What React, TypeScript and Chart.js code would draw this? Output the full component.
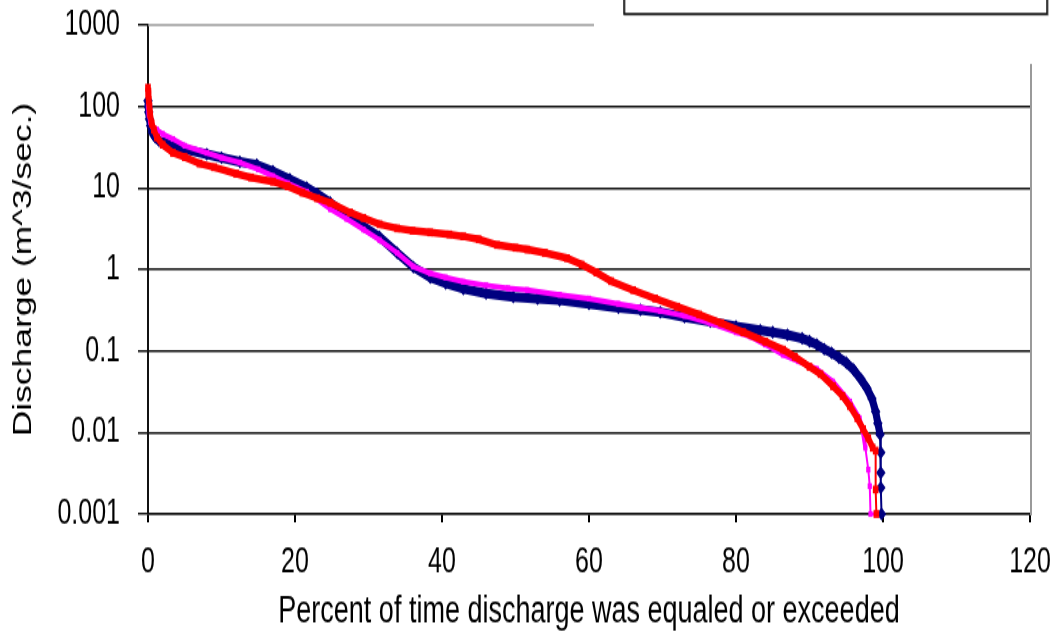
import React, { useEffect, useRef } from "react";
import { Chart, registerables } from "chart.js";

Chart.register(...registerables);

// ---- data ----
const xTickValues = [0, 20, 40, 60, 80, 100, 120];
const yTickValues = [0.001, 0.01, 0.1, 1, 10, 100, 1000];
const yTickLabels = ["0.001", "0.01", "0.1", "1", "10", "100", "1000"];

const xTitle = "Percent of time discharge was equaled or exceeded";
const yTitle = "Discharge (m^3/sec.)";

// navy series (diamonds)
const blueX = [0, 0.05, 0.1, 0.2, 0.35, 0.6, 1, 1.5, 2.2, 3.4, 5, 8, 10, 12.5, 14.8, 17, 19.3, 21.6, 23, 24.8, 27, 29.3, 31.5, 33.9, 36.1, 38.4, 40.5, 42.9, 46, 49.7, 53, 56, 60, 64, 67, 69.7, 73, 76.5, 80, 83.3, 85, 87, 89, 90, 91, 92, 93, 94, 95, 96, 97, 97.8, 98.5, 99, 99.3, 99.6, 99.7, 99.7, 99.7, 99.8];
const blueY = [118, 100, 85, 70, 58, 48, 42, 38, 36, 33, 30, 26, 23.5, 21, 19.3, 16, 12.8, 10.1, 8.5, 6.6, 4.7, 3.4, 2.5, 1.6, 1.07, 0.8, 0.68, 0.58, 0.51, 0.46, 0.44, 0.42, 0.38, 0.34, 0.32, 0.3, 0.26, 0.23, 0.2, 0.18, 0.17, 0.158, 0.143, 0.132, 0.12, 0.106, 0.095, 0.083, 0.072, 0.059, 0.045, 0.035, 0.026, 0.018, 0.013, 0.0095, 0.0057, 0.0032, 0.0021, 0.001];

// magenta series (small squares)
const pinkX = [0, 0.1, 0.3, 0.6, 1.2, 2, 3.4, 5, 8, 10, 12.5, 15, 17, 19, 21.6, 24.8, 27, 29.3, 31.5, 33.9, 36.1, 38.4, 40.5, 42.9, 46, 49, 51.6, 56, 60, 64, 67, 69.7, 73, 76.5, 80, 82, 84, 86.4, 88.5, 91, 93.2, 95.5, 96.8, 97.2, 97.6, 98.0, 98.2, 98.3, 99.0];
const pinkY = [100, 80, 65, 58, 52, 46, 40, 33, 27, 23.5, 20.5, 17, 14, 11.5, 9, 5.5, 4.2, 3.1, 2.3, 1.6, 1.09, 0.9, 0.8, 0.71, 0.64, 0.59, 0.56, 0.49, 0.44, 0.38, 0.34, 0.31, 0.27, 0.22, 0.17, 0.15, 0.12, 0.09, 0.075, 0.06, 0.042, 0.024, 0.015, 0.011, 0.0065, 0.0035, 0.0022, 0.001, 0.001];

// red series (squares)
const redX = [0, 0.05, 0.1, 0.2, 0.3, 0.5, 0.8, 1.2, 2, 3.4, 5, 7, 9, 12, 14, 17, 19, 21, 23, 24.8, 27.5, 29.3, 31.5, 33.9, 36, 38.4, 41, 42.9, 45, 47.5, 50, 51.6, 54, 57, 59, 61, 63, 66, 69, 72, 75, 78, 81, 84, 86.4, 88, 90, 91.5, 93.2, 94.5, 95.5, 96.5, 97.3, 98, 98.6, 99.0, 99.0, 99.1];
const redY = [170, 140, 120, 100, 80, 62, 52, 42, 34, 27, 24, 20, 18, 15, 13.5, 12, 10.5, 8.8, 7.5, 6.6, 5.0, 4.3, 3.6, 3.2, 3.0, 2.85, 2.7, 2.55, 2.35, 2.0, 1.85, 1.76, 1.6, 1.38, 1.15, 0.92, 0.72, 0.56, 0.44, 0.35, 0.28, 0.22, 0.17, 0.13, 0.104, 0.085, 0.064, 0.052, 0.037, 0.028, 0.021, 0.015, 0.011, 0.0085, 0.0065, 0.006, 0.002, 0.001];

const NAVY = "#000080";
const MAGENTA = "#FF00FF";
const RED = "#FF0000";

const FONT = "'Liberation Sans', Arial, Helvetica, sans-serif";

const W = 1057;
const H = 460; // drawn height, stretched vertically to 639 like the reference
const STRETCH = 639 / 460;

function pts(xs: number[], ys: number[]) {
  return xs.map((x, i) => ({ x, y: ys[i] }));
}

const framePlugin = {
  id: "frame",
  afterDraw(chart: any) {
    const { ctx, chartArea } = chart;
    ctx.save();
    // partial top border line at 1000
    ctx.strokeStyle = "#9a9a9a";
    ctx.lineWidth = 1.5;
    ctx.beginPath();
    ctx.moveTo(chartArea.left, chartArea.top);
    ctx.lineTo(594, chartArea.top);
    ctx.stroke();
    // right border line
    ctx.lineWidth = 2;
    ctx.beginPath();
    ctx.moveTo(chartArea.right + 1, 46);
    ctx.lineTo(chartArea.right + 1, chartArea.bottom + 1);
    ctx.stroke();
    // legend box cut by the top edge
    ctx.fillStyle = "#ffffff";
    ctx.fillRect(624, -5, 423, 15);
    ctx.strokeStyle = "#9a9a9a";
    ctx.lineWidth = 1.5;
    ctx.strokeRect(625, -5, 423, 15.5);
    ctx.strokeStyle = "#111";
    ctx.lineWidth = 1.5;
    ctx.strokeRect(624, -5, 423, 15);
    ctx.restore();
  },
};

export default function App() {
  const ref = useRef<HTMLCanvasElement | null>(null);

  useEffect(() => {
    if (!ref.current) return;
    const thin = (lim: number, wide: number) => (c: any) =>
      c.p1.parsed.y < lim || c.p0.parsed.y < lim ? 2 : wide;

    const chart = new Chart(ref.current, {
      type: "line",
      data: {
        datasets: [
          {
            label: "red",
            data: pts(redX, redY),
            borderColor: RED,
            backgroundColor: RED,
            borderWidth: 5.5,
            pointStyle: "rect",
            pointRadius: 4,
            pointBorderWidth: 0,
            tension: 0,
            clip: false as any,
            order: 0,
            segment: { borderWidth: thin(0.0062, 5.5) },
          },
          {
            label: "magenta",
            data: pts(pinkX, pinkY),
            borderColor: MAGENTA,
            backgroundColor: MAGENTA,
            borderWidth: 4,
            pointStyle: "rect",
            pointRadius: 3,
            pointBorderWidth: 0,
            tension: 0,
            clip: false as any,
            order: 1,
            segment: { borderWidth: thin(0.0062, 4) },
          },
          {
            label: "navy",
            data: pts(blueX, blueY),
            borderColor: NAVY,
            backgroundColor: NAVY,
            borderWidth: 7,
            pointStyle: "rectRot",
            pointRadius: 4.8,
            pointBorderWidth: 0,
            tension: 0,
            clip: false as any,
            order: 2,
            segment: { borderWidth: thin(0.009, 7) },
          },
        ],
      },
      options: {
        responsive: false,
        animation: false,
        devicePixelRatio: 1,
        events: [],
        layout: { padding: { top: 18, right: 27, left: 0, bottom: 0 } },
        plugins: {
          legend: { display: false },
          tooltip: { enabled: false },
          title: { display: false },
        },
        scales: {
          x: {
            type: "linear",
            min: 0,
            max: 120,
            afterFit: (s: any) => {
              s.height = 90;
              s.paddingLeft = 0;
              s.paddingRight = 0;
            },
            afterBuildTicks: (s: any) => {
              s.ticks = xTickValues.map((v) => ({ value: v }));
            },
            ticks: {
              color: "#000",
              font: { family: FONT, size: 25 },
              padding: 14,
              maxRotation: 0,
              autoSkip: false,
              callback: (v: any) => String(v),
            },
            grid: {
              drawOnChartArea: false,
              drawTicks: true,
              tickLength: 6,
              color: "#000",
              lineWidth: 2,
            },
            border: { display: true, color: "#111", width: 1.5 },
            title: {
              display: true,
              text: xTitle,
              color: "#000",
              font: { family: FONT, size: 27 },
              padding: { top: 0, bottom: 3 },
            },
          },
          y: {
            type: "logarithmic",
            min: 0.001,
            max: 1000,
            afterFit: (s: any) => {
              s.width = 148;
              s.paddingTop = 0;
              s.paddingBottom = 0;
            },
            afterBuildTicks: (s: any) => {
              s.ticks = yTickValues.map((v) => ({ value: v }));
            },
            ticks: {
              color: "#000",
              font: { family: FONT, size: 25 },
              padding: 18,
              autoSkip: false,
              callback: (v: any) => {
                const i = yTickValues.indexOf(Number(v));
                return i >= 0 ? yTickLabels[i] : "";
              },
            },
            grid: {
              drawOnChartArea: true,
              drawTicks: true,
              tickLength: 10,
              tickColor: "#111",
              lineWidth: 1.5,
              color: (c: any) =>
                c.tick && c.tick.value === 1000 ? "rgba(0,0,0,0)" : "#111",
            },
            border: { display: true, color: "#111", width: 2 },
            title: {
              display: true,
              text: yTitle,
              color: "#000",
              font: { family: FONT, size: 25.5 },
              padding: { top: 9, bottom: 0 },
            },
          },
        },
      },
      plugins: [framePlugin],
    });
    return () => chart.destroy();
  }, []);

  return (
    <div
      style={{
        position: "absolute",
        left: 0,
        top: 0,
        width: W,
        height: 639,
        overflow: "hidden",
        background: "#ffffff",
      }}
    >
      <div
        style={{
          width: W,
          height: H,
          transform: `scaleY(${STRETCH})`,
          transformOrigin: "0 0",
        }}
      >
        <canvas
          ref={ref}
          width={W}
          height={H}
          style={{ width: W, height: H, display: "block" }}
        />
      </div>
    </div>
  );
}
